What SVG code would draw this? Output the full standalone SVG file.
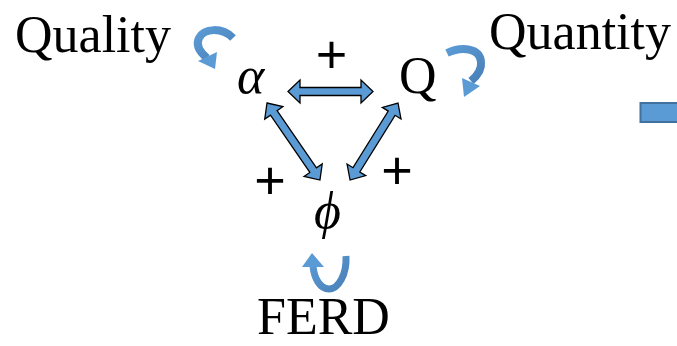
<svg xmlns="http://www.w3.org/2000/svg" width="677" height="346" viewBox="0 0 677 346">
  <style>
    .lbl { font-family: "Liberation Serif", "Times New Roman", serif; font-size: 52px; fill: #000; }
    .it { font-style: italic; }
    .plus { font-family: "Liberation Sans", Arial, sans-serif; font-size: 54px; fill: #000; text-anchor: middle; }
    .dbl { fill: #5B9BD5; stroke: #000; stroke-width: 1.3; stroke-linejoin: miter; }
    .band { fill: none; stroke: url(#g); stroke-width: 8; stroke-linecap: butt; }
    .head { fill: #5B9BD5; stroke: none; }
  </style>
  <defs>
    <linearGradient id="g" x1="0" y1="0" x2="1" y2="1">
      <stop offset="0" stop-color="#5B9BD5"/>
      <stop offset="1" stop-color="#4A80B8"/>
    </linearGradient>
  </defs>
  <rect width="677" height="346" fill="#fff"/>

  <g id="quality"><text class="lbl" x="15" y="52">Quality</text></g>
  <g id="quantity"><text class="lbl" x="489" y="49">Quantity</text></g>
  <g id="alpha"><text class="lbl it" x="237" y="93">α</text></g>
  <g id="Q"><text class="lbl" x="399" y="93">Q</text></g>
  <g id="phi"><text class="lbl it" x="314" y="228">ϕ</text></g>
  <g id="ferd"><text class="lbl" x="257" y="334">FERD</text></g>

  <g id="signs">
    <text class="plus" x="331.5" y="73">+</text>
    <text class="plus" x="270" y="199">+</text>
    <text class="plus" x="397" y="189">+</text>
  </g>

  <g id="connectors">
    <polygon class="dbl" transform="translate(288,91.5)" points="0,0 12,-11.5 12,-4 73,-4 73,-11.5 85,0 73,11.5 73,4 12,4 12,11.5"/>
    <polygon class="dbl" transform="translate(267,103) rotate(55.5)" points="0,0 12,-11 12,-4 81.5,-4 81.5,-11 93.5,0 81.5,11 81.5,4 12,4 12,11"/>
    <polygon class="dbl" transform="translate(398,103) rotate(121.9)" points="0,0 12,-11 12,-4 78.7,-4 78.7,-11 90.7,0 78.7,11 78.7,4 12,4 12,11"/>
  </g>

  <g id="loops">
    <path class="band" d="M233,38 C222,27 204,28 199,38 C195,46 201,53 207,58"/>
    <polygon class="head" points="198,61 217,52 215,69"/>
    <path class="band" d="M447,53 C462,46 480,48 481,62 C482,70 477,76 471,81"/>
    <polygon class="head" points="462,78 480,86 464,97"/>
    <path class="band" d="M346,256 C347,275 338,289 329,289 C320,289 314,278 313,266" style="stroke-width:7"/>
    <polygon class="head" points="302,267 324,267 312,253"/>
  </g>

  <g id="box">
    <rect x="640.5" y="103" width="45" height="19" fill="#5B9BD5" stroke="#41719C" stroke-width="2"/>
  </g>
</svg>
